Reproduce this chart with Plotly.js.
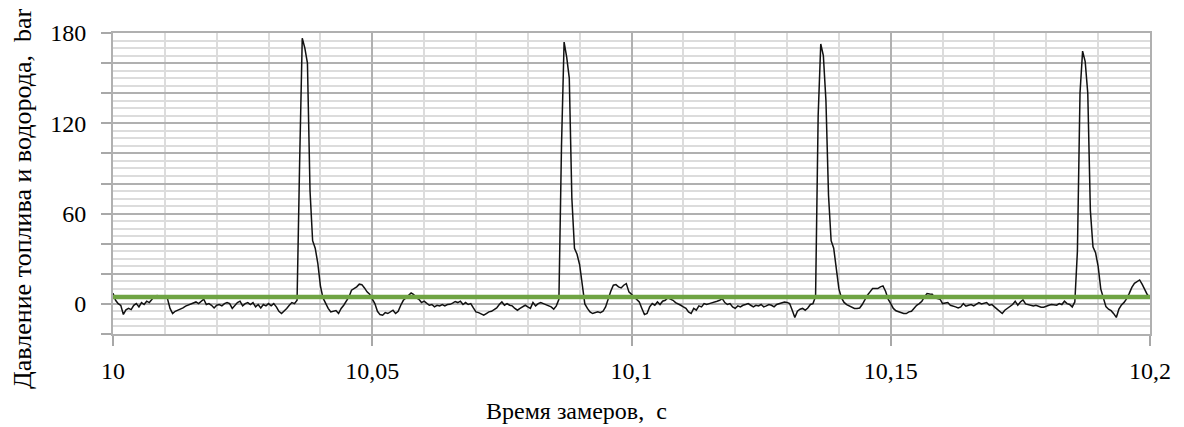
<!DOCTYPE html>
<html>
<head>
<meta charset="utf-8">
<script src="https://cdn.plot.ly/plotly-3.0.1.min.js"></script>
<style>html,body{margin:0;padding:0;background:#fff;}#chart{width:1184px;height:427px;}</style>
</head>
<body>
<div id="chart"></div>
<script>
// Time axis: samples start at 10 s, every 0.0005 s
const timeStart = 10;
const timeStep = 0.0005;
// Pressure of fuel and hydrogen, bar
const pressure = [
7,2.4,0.2,-1,-7,-4,-3,-3.8,-1,0.2,
-2,0.9,-0.4,1.8,0.9,3.1,5,5.5,5,4.5,
5,3.5,-3,-6.4,-4.9,-4.2,-3,-2.7,-1.5,-0.9,
-0.4,0.2,1.3,0.2,1.8,3.1,-0.4,0.2,-0.9,-2.7,
-0.9,-0.4,-1.3,0.2,0.9,0.2,-3,-0.9,0.9,1.8,
-1.3,0.2,0.9,-0.4,0.9,-2,-0.4,-2.7,-0.4,-1.3,
0.2,-1.3,0.2,-2,-4.9,-6.4,-4.9,-3,-0.9,0.9,
0.2,2.5,95,176.5,170,160,75,42,37,27,
12,4,0.5,-3,-5.3,-4.9,-4.4,-6.4,-3,-0.9,
1.8,4.6,9.1,10.2,11.3,13.1,12.8,10.6,8,6.4,
3.1,0.2,-4.9,-7.1,-7.5,-5.8,-6.4,-5.3,-4.2,-6.4,
-4.9,-0.9,2.4,4,5.8,7.3,6.2,4,3.1,0.9,
1.8,0.2,-0.9,-0.4,-2,-0.9,-1.3,-0.4,-1.3,-0.4,
-0.3,0.5,1.6,0.9,1.8,-0.4,0.9,-0.4,0.2,-2.7,
-5.3,-5.8,-6.4,-7.5,-6.4,-5.3,-4.9,-3.5,-2.7,-0.4,
1.3,-0.9,0.2,-0.9,-1.3,-3,-4.2,-3,-2,-0.9,
-2,-3,0.9,-1.3,0.2,0.9,0.2,-0.4,-0.9,-2,
-3.5,-1.3,3,105,174,164,150,70,37,33,
26,12,0,-3,-5.3,-6.4,-5.8,-5.3,-5.8,-4.9,
-2,4,8.4,12.4,12.8,11.3,10.6,12.4,13.5,8,
6.2,4.6,3.1,1.3,-3,-7.1,-6.4,-2,0.2,-0.9,
1.3,-0.4,1.8,2.4,4,3.1,2.4,0.9,0.2,-0.9,
-2,-3,-5.3,-6.4,-3,-4.2,-1.3,-2,0.2,-0.4,
0.2,0.9,1.3,1.8,2.4,3.5,0.9,-0.4,0.2,-2,
-3,-1.3,-2,-0.9,-0.4,0.2,-0.9,-2,-0.9,-1.3,
-0.4,-2,-1.3,-0.4,-0.9,-2,-0.4,0.2,0.5,1.3,
1,0.2,-4.2,-9,-4.9,-3.5,-3,-4.2,-2.7,-0.4,
0.2,5,125,172.7,165,135,72,42,37,24,
10,4,1,-0.5,-1.3,-2.2,-3,-3,-2.7,-0.4,
3.1,5.8,8,10.2,10.2,10.2,11.3,12,8.4,3.1,
0.2,-3,-4.6,-5.3,-5.8,-6.4,-6.4,-5.3,-4.9,-2.7,
-0.9,0.2,1.8,4.6,6.9,6.6,6.4,4,3.5,3.1,
0.2,0.7,0.9,-0.9,-1.3,-2,-2.7,-2,0.2,-1.5,
-0.9,-0.4,-1.3,0,0.9,0,0.4,0.9,-0.9,-0.4,
-2,-3.5,-5.3,-6.4,-4.2,-3,-2,-0.4,1.8,-0.9,
1.3,2.7,0,-0.4,-0.9,-1.3,-0.9,-1.8,-2.2,-2.2,
-1.3,-0.9,-0.4,-0.4,-0.9,0.2,-0.4,1.8,0.2,-0.4,
-2,1.3,35,140,168,161,140,62,38,34,
25,10,3.8,-1.8,-3.5,-4.5,-6.5,-9,-3.5,-0.7,
1,3.5,7,11,13.7,14.8,15.9,13,9,6,
4.9
];
// Reference (average) level line
const refTimes = [10, 10.2];
const refLevel = [4.6, 4.6];

// Axis ticks
const xTickVals = [10, 10.05, 10.1, 10.15, 10.2];
const xTickText = ['10', '10,05', '10,1', '10,15', '10,2'];
const yTickVals = [-20, 0, 20, 40, 60, 80, 100, 120, 140, 160, 180];
const yTickText = ['', '0', '', '', '60', '', '', '120', '', '', '180'];

const xTitle = 'Время замеров,\u00a0 с';
const yTitle = 'Давление топлива и водорода,\u00a0 bar';

const serif = 'Times New Roman, Liberation Serif, Tinos, serif';

const traces = [
  {
    type: 'scatter', mode: 'lines',
    y: pressure, x0: timeStart, dx: timeStep,
    line: {color: '#111111', width: 1.5},
    hoverinfo: 'skip', showlegend: false
  },
  {
    type: 'scatter', mode: 'lines',
    x: refTimes, y: refLevel,
    line: {color: '#6fa443', width: 4.5},
    hoverinfo: 'skip', showlegend: false
  }
];

const layout = {
  width: 1184, height: 427,
  margin: {l: 113, r: 34, t: 33, b: 93},
  paper_bgcolor: '#ffffff', plot_bgcolor: '#ffffff',
  showlegend: false,
  font: {family: serif, color: '#000', size: 24},
  xaxis: {
    range: [10, 10.2],
    tickmode: 'array', tickvals: xTickVals, ticktext: xTickText,
    ticks: 'outside', ticklen: 10, tickcolor: '#a8a8a8', tickwidth: 2,
    ticklabelstandoff: 4,
    showgrid: true, gridcolor: '#b0b0b0', gridwidth: 2,
    minor: {dtick: 0.01, tick0: 10, showgrid: true, gridcolor: '#dcdcdc', gridwidth: 2, ticks: ''},
    zeroline: false,
    showline: true, linecolor: '#b0b0b0', linewidth: 2, mirror: true,
    tickfont: {family: serif, size: 24, color: '#000'}
  },
  yaxis: {
    range: [-20, 180],
    tickmode: 'array', tickvals: yTickVals, ticktext: yTickText,
    ticks: 'outside', ticklen: 10, tickcolor: '#a8a8a8', tickwidth: 2,
    ticklabelstandoff: 10,
    showgrid: true, gridcolor: '#b0b0b0', gridwidth: 2,
    minor: {dtick: 5, tick0: 0, showgrid: true, gridcolor: '#dcdcdc', gridwidth: 2, ticks: ''},
    zeroline: false,
    showline: true, linecolor: '#b0b0b0', linewidth: 2, mirror: true,
    tickfont: {family: serif, size: 24, color: '#000'}
  },
  annotations: [
    {
      text: yTitle, textangle: -90, showarrow: false,
      xref: 'paper', yref: 'paper', x: -0.0878, y: 0.4485,
      xanchor: 'center', yanchor: 'middle',
      font: {family: serif, size: 26, color: '#000'}
    },
    {
      text: xTitle, showarrow: false,
      xref: 'paper', yref: 'paper', x: 0.4474, y: -0.2558,
      xanchor: 'center', yanchor: 'middle',
      font: {family: serif, size: 24, color: '#000'}
    }
  ]
};

Plotly.newPlot('chart', traces, layout, {staticPlot: true, displayModeBar: false});
</script>
</body>
</html>
